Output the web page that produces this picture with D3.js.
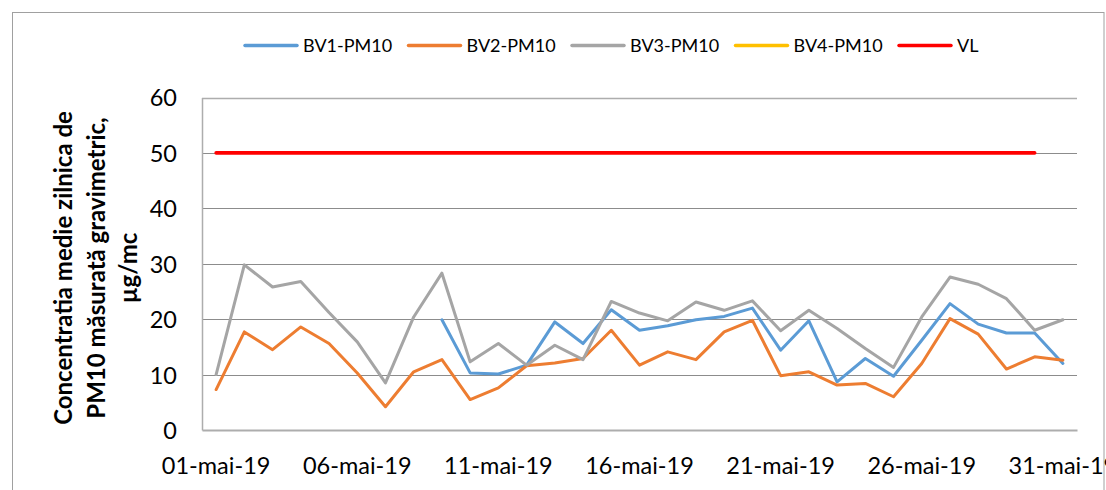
<!DOCTYPE html>
<html>
<head>
<meta charset="utf-8">
<script src="https://cdn.jsdelivr.net/npm/d3@7"></script>
<style>
  html, body { margin: 0; padding: 0; background: #fff; }
  svg { display: block; }
  text { font-family: Lato, "Open Sans", sans-serif; fill: #000; }
</style>
</head>
<body>
<svg id="chart" width="1106" height="490"></svg>
<script>
// ---------- data ----------
const dates = ["01-mai-19","02-mai-19","03-mai-19","04-mai-19","05-mai-19","06-mai-19","07-mai-19","08-mai-19","09-mai-19","10-mai-19",
  "11-mai-19","12-mai-19","13-mai-19","14-mai-19","15-mai-19","16-mai-19","17-mai-19","18-mai-19","19-mai-19","20-mai-19",
  "21-mai-19","22-mai-19","23-mai-19","24-mai-19","25-mai-19","26-mai-19","27-mai-19","28-mai-19","29-mai-19","30-mai-19","31-mai-19"];
const tickDates = ["01-mai-19","06-mai-19","11-mai-19","16-mai-19","21-mai-19","26-mai-19","31-mai-19"];
const yTicks = [0, 10, 20, 30, 40, 50, 60];

const bv1 = [null,null,null,null,null,null,null,null,19.9,10.3,10.1,11.7,19.5,15.6,21.7,18.0,18.8,19.9,20.5,22.0,14.4,19.7,8.7,12.9,9.7,16.2,22.8,19.1,17.5,17.5,12.0];
const bv2 = [7.3,17.7,14.5,18.6,15.6,10.3,4.2,10.5,12.7,5.5,7.6,11.6,12.1,12.9,18.0,11.7,14.1,12.7,17.7,19.8,9.8,10.5,8.1,8.4,6.0,12.0,20.1,17.3,11.0,13.2,12.6];
const bv3 = [10.0,29.8,25.8,26.8,21.2,15.9,8.5,20.4,28.3,12.3,15.6,11.7,15.3,12.7,23.2,21.1,19.7,23.1,21.6,23.3,17.9,21.6,18.3,14.7,11.3,20.4,27.6,26.3,23.7,18.0,19.9];
const bv4 = dates.map(() => null);
const vl  = [50,50,50,50,50,50,50,50,50,50,50,50,50,50,50,50,50,50,50,50,50,50,50,50,50,50,50,50,50,50,null];

const seriesNames = ["BV1-PM10","BV2-PM10","BV3-PM10","BV4-PM10","VL"];
const seriesValues = [bv1, bv2, bv3, bv4, vl];
const seriesColors = ["#5B9BD5","#ED7D31","#A5A5A5","#FFC000","#FF0000"];
const seriesWidths = [3, 3, 3, 3, 3.6];

const yTitleLines = ["Concentratia medie zilnica de", "PM10 măsurată gravimetric,", "µg/mc"];

// ---------- layout ----------
const svg = d3.select("#chart");
const plot = { left: 202, right: 1077, top: 97.5, bottom: 430 };

const x = d3.scaleBand().domain(dates).range([plot.left, plot.right]).padding(0);
const xc = d => x(d) + x.bandwidth() / 2;
const y = d3.scaleLinear().domain([0, 60]).range([plot.bottom, plot.top]);

// outer chart border
svg.append("rect")
  .attr("x", 12.5).attr("y", 12.5)
  .attr("width", 1091.5).attr("height", 500)
  .attr("fill", "none").attr("stroke", "#a0a0a0").attr("stroke-width", 1);

// gridlines
svg.append("g")
  .selectAll("line")
  .data(yTicks.filter(t => t > 0))
  .join("line")
  .attr("x1", plot.left).attr("x2", plot.right)
  .attr("y1", d => Math.round(y(d)) + 0.5).attr("y2", d => Math.round(y(d)) + 0.5)
  .attr("stroke", d => d === 60 ? "#adadad" : "#8c8c8c")
  .attr("stroke-width", d => d === 60 ? 1.5 : 1);

// y axis
const yAxis = d3.axisLeft(y).tickValues(yTicks).tickSize(0).tickPadding(25);
const gy = svg.append("g").attr("transform", `translate(${plot.left},0)`).call(yAxis);
gy.select(".domain").attr("stroke", "#adadad").attr("stroke-width", 1.5);
gy.selectAll(".tick text")
  .attr("font-family", "Lato, sans-serif").attr("font-size", 23.5).attr("fill", "#000")
  .attr("dy", "0.36em");

// x axis
const xAxis = d3.axisBottom(x).tickValues(tickDates).tickSize(0).tickPadding(27);
const gx = svg.append("g").attr("transform", `translate(0,${plot.bottom})`).call(xAxis);
gx.select(".domain").attr("stroke", "#adadad").attr("stroke-width", 2);
gx.selectAll(".tick text")
  .attr("font-family", "Lato, sans-serif").attr("font-size", 23.5).attr("fill", "#000");

// lines
const line = d3.line()
  .defined(d => d.v !== null)
  .x(d => xc(d.date))
  .y(d => y(d.v));

seriesValues.forEach((vals, i) => {
  const pts = vals.map((v, j) => ({ date: dates[j], v }));
  svg.append("path")
    .datum(pts)
    .attr("d", line)
    .attr("fill", "none")
    .attr("stroke", seriesColors[i])
    .attr("stroke-width", seriesWidths[i])
    .attr("stroke-linejoin", "round")
    .attr("stroke-linecap", "round");
});

// legend
const legend = svg.append("g").attr("transform", "translate(245,45.5)");
const step = 163.5;
seriesNames.forEach((name, i) => {
  const g = legend.append("g").attr("transform", `translate(${i * step},0)`);
  g.append("line")
    .attr("x1", 0).attr("x2", 52).attr("y1", 0).attr("y2", 0)
    .attr("stroke", seriesColors[i]).attr("stroke-width", 3.5)
    .attr("stroke-linecap", "round");
  g.append("text")
    .attr("x", 58).attr("y", 0).attr("dy", "0.36em")
    .attr("font-size", 18).text(name);
});

// y title
const yt = svg.append("text")
  .attr("transform", "translate(72,268) rotate(-90)")
  .attr("text-anchor", "middle")
  .attr("font-weight", "bold")
  .attr("font-size", 24);
yTitleLines.forEach((t, i) => {
  yt.append("tspan").attr("x", 0).attr("y", i * 32.5).text(t);
});
</script>
</body>
</html>
